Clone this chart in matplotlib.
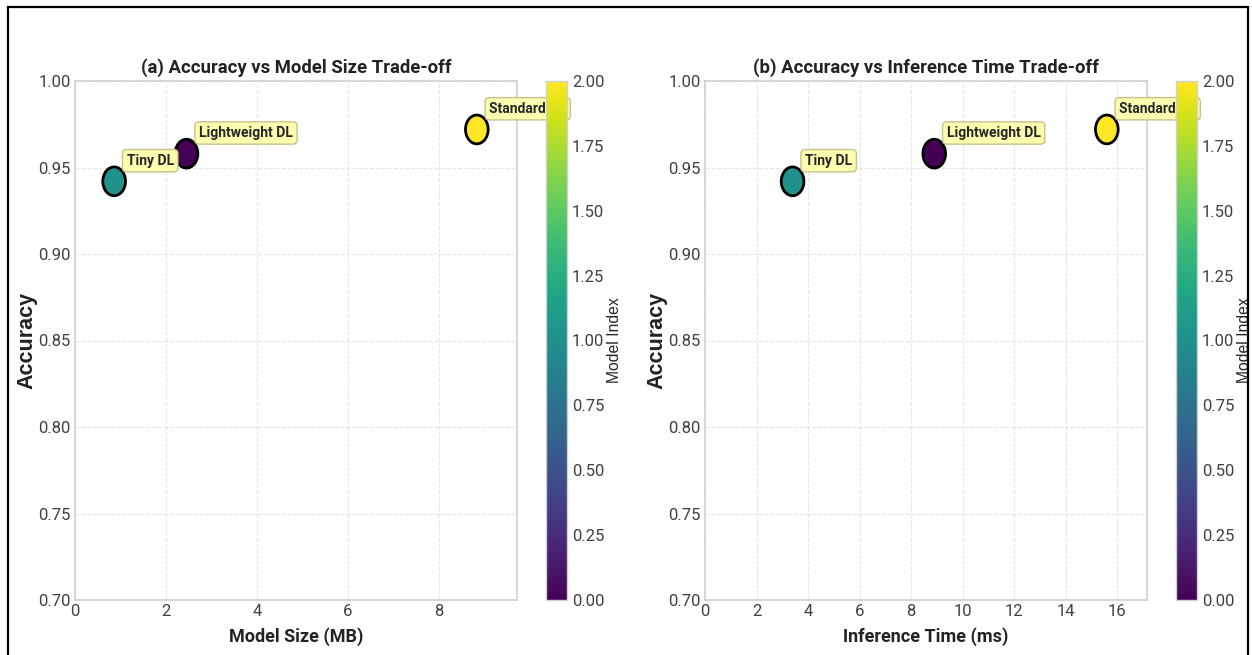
import numpy as np
import matplotlib
matplotlib.use("Agg")
import matplotlib.pyplot as plt
from matplotlib.path import Path
from matplotlib.patches import Rectangle

plt.style.use("seaborn-v0_8-whitegrid")
plt.rcParams["font.family"] = ["Roboto", "DejaVu Sans"]

#%% data
models = ["Lightweight DL", "Tiny DL", "Standard DL"]
model_index = [0, 1, 2]
accuracy = [0.958, 0.942, 0.972]
size_mb = [2.45, 0.86, 8.83]
infer_ms = [8.9, 3.4, 15.6]
y_ticks = [0.70, 0.75, 0.80, 0.85, 0.90, 0.95, 1.00]

# slightly tall ellipse marker
circ = Path.unit_circle()
ell = Path(circ.vertices * np.array([1.0, 1.27]), circ.codes)

fig = plt.figure(figsize=(12.52, 6.55), dpi=100)
fig.patch.set_facecolor("white")

# black frame round the figure
fig.patches.append(Rectangle((8 / 1252, -0.05), 1240 / 1252, 1.05 - 7 / 655,
                             transform=fig.transFigure, fill=False,
                             edgecolor="black", linewidth=1.6, zorder=10))

panels = [
    ("(a) Accuracy vs Model Size Trade-off", "Model Size (MB)", size_mb,
     [75, 517], [546, 567], [0, 2, 4, 6, 8]),
    ("(b) Accuracy vs Inference Time Trade-off", "Inference Time (ms)", infer_ms,
     [705, 1147], [1176, 1197], [0, 2, 4, 6, 8, 10, 12, 14, 16]),
]

W, H = 1252, 655
bot, top = 1 - 600 / H, 1 - 81 / H

for title, xlabel, xvals, (x0, x1), (c0, c1), xt in panels:
    ax = fig.add_axes([x0 / W, bot, (x1 - x0) / W, top - bot])
    sc = ax.scatter(xvals, accuracy, c=model_index, cmap="viridis", s=430,
                    marker=ell, edgecolors="black", linewidths=2, zorder=3)
    for name, x, y in zip(models, xvals, accuracy):
        ax.annotate(name, (x, y), xytext=(9, 12), textcoords="offset points",
                    fontsize=10, fontweight="bold", color="#262626",
                    bbox=dict(boxstyle="round,pad=0.3", facecolor="#fdfdb0",
                              edgecolor="#c4c48a", linewidth=1))
    ax.set_xlim(0, max(xvals) * 1.1)
    ax.set_ylim(0.7, 1.0)
    ax.set_xticks(xt)
    ax.set_yticks(y_ticks)
    ax.set_yticklabels([f"{v:.2f}" for v in y_ticks])
    ax.tick_params(labelsize=12, colors="#404040", pad=3)
    ax.grid(True, linestyle="--", alpha=0.5)
    for s in ax.spines.values():
        s.set_color("#d0d0d0")
        s.set_linewidth(1.2)
    ax.set_title(title, fontsize=13.3, fontweight="bold", color="#222222", pad=6)
    ax.set_xlabel(xlabel, fontsize=13, fontweight="bold", color="#222222", labelpad=6)
    ax.set_ylabel("Accuracy", fontsize=15.5, fontweight="bold", color="#222222",
                  family=["Liberation Sans", "DejaVu Sans"])
    ax.yaxis.set_label_coords(-0.085, 0.5)

    cax = fig.add_axes([c0 / W, bot, (c1 - c0) / W, top - bot])
    cb = fig.colorbar(sc, cax=cax)
    cb.outline.set_edgecolor("#d0d0d0")
    cb.ax.tick_params(labelsize=12, colors="#404040")
    cb.set_label("Model Index", fontsize=11.3, color="#262626",
                 family=["Liberation Sans", "DejaVu Sans"], labelpad=2)

plt.savefig("out.png", dpi=100)
